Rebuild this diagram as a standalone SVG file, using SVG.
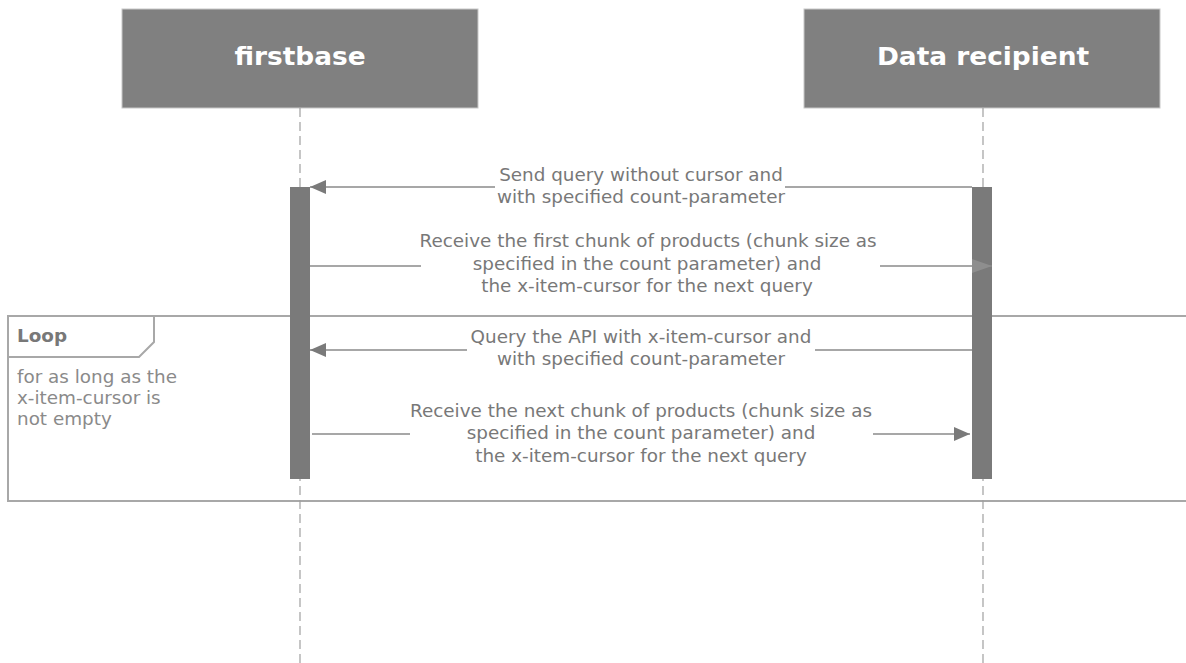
<svg xmlns="http://www.w3.org/2000/svg" width="1186" height="663" viewBox="0 0 1186 663">
<style>
.hdr{fill:#808080;stroke:#c8c8c8;stroke-width:1}
.hdrtxt{font-family:"DejaVu Sans",Verdana,sans-serif;font-weight:bold;font-size:24px;fill:#ffffff;text-anchor:middle}
.life{stroke:#a0a0a0;stroke-width:1.2;stroke-dasharray:9,5;fill:none}
.bar{fill:#7a7a7a}
.msg{stroke:#8a8a8a;stroke-width:1.5;fill:none}
.lbl{font-family:"DejaVu Sans",Verdana,sans-serif;font-size:17px;fill:#787878;text-anchor:middle}
.frame{fill:none;stroke:#a8a8a8;stroke-width:2}
.ltxt{font-family:"DejaVu Sans",Verdana,sans-serif;font-size:17px;fill:#8a8a8a}
.ltitle{font-family:"DejaVu Sans",Verdana,sans-serif;font-size:17px;font-weight:bold;fill:#787878}
</style>
<defs>
<marker id="arr" markerWidth="16" markerHeight="14" refX="16" refY="7" orient="auto" markerUnits="userSpaceOnUse">
<path d="M0,0 L16,7 L0,14 z" fill="#7a7a7a"/>
</marker>
<marker id="arrFaded" markerWidth="20" markerHeight="14" refX="20" refY="7" orient="auto" markerUnits="userSpaceOnUse">
<path d="M0,0 L20,7 L0,14 z" fill="#8e8e8e"/>
</marker>
</defs>
<rect width="1186" height="663" fill="#ffffff"/>

<g id="loop-frame">
<rect class="frame" x="8" y="316" width="1190" height="185"/>
<path class="frame" d="M8,357 L139,357 L154,342 L154,316"/>
<g transform="translate(17 0) scale(1.08 1)">
<text class="ltitle" x="0" y="342">Loop</text>
<text class="ltxt" x="0" y="383">for as long as the</text>
<text class="ltxt" x="0" y="404">x-item-cursor is</text>
<text class="ltxt" x="0" y="425">not empty</text>
</g>
</g>

<g id="firstbase">
<rect class="hdr" x="122" y="9" width="356" height="99"/>
<text class="hdrtxt" transform="translate(300 0) scale(1.1 1)" x="0" y="65">firstbase</text>
<line class="life" x1="300" y1="108" x2="300" y2="663"/>
<rect class="bar" x="290" y="187" width="20" height="292"/>
</g>

<g id="data-recipient">
<rect class="hdr" x="804" y="9" width="356" height="99"/>
<text class="hdrtxt" transform="translate(983 0) scale(1.1 1)" x="0" y="65">Data recipient</text>
<line class="life" x1="983" y1="108" x2="983" y2="663"/>
<rect class="bar" x="972" y="187" width="20" height="292"/>
</g>

<g id="connectors">
<g id="msg1">
<line class="msg" x1="785" y1="187" x2="972" y2="187"/>
<line class="msg" x1="495" y1="187" x2="310" y2="187" marker-end="url(#arr)"/>
<g transform="translate(641 0) scale(1.08 1)">
<text class="lbl" x="0" y="181">Send query without cursor and</text>
<text class="lbl" x="0" y="203">with specified count-parameter</text>
</g>
</g>
<g id="msg2">
<line class="msg" x1="310" y1="266" x2="421" y2="266"/>
<line class="msg" x1="880" y1="266" x2="992" y2="266" marker-end="url(#arrFaded)"/>
<g transform="translate(647 0) scale(1.08 1)">
<text class="lbl" x="1" y="247">Receive the first chunk of products (chunk size as</text>
<text class="lbl" x="0" y="270">specified in the count parameter) and</text>
<text class="lbl" x="0" y="292">the x-item-cursor for the next query</text>
</g>
</g>
<g id="msg3">
<line class="msg" x1="815" y1="350" x2="972" y2="350"/>
<line class="msg" x1="467" y1="350" x2="310" y2="350" marker-end="url(#arr)"/>
<g transform="translate(641 0) scale(1.08 1)">
<text class="lbl" x="0" y="343">Query the API with x-item-cursor and</text>
<text class="lbl" x="0" y="365">with specified count-parameter</text>
</g>
</g>
<g id="msg4">
<line class="msg" x1="312" y1="434" x2="410" y2="434"/>
<line class="msg" x1="873" y1="434" x2="970" y2="434" marker-end="url(#arr)"/>
<g transform="translate(641 0) scale(1.08 1)">
<text class="lbl" x="0" y="417">Receive the next chunk of products (chunk size as</text>
<text class="lbl" x="0" y="439">specified in the count parameter) and</text>
<text class="lbl" x="0" y="462">the x-item-cursor for the next query</text>
</g>
</g>
</g>
</svg>
